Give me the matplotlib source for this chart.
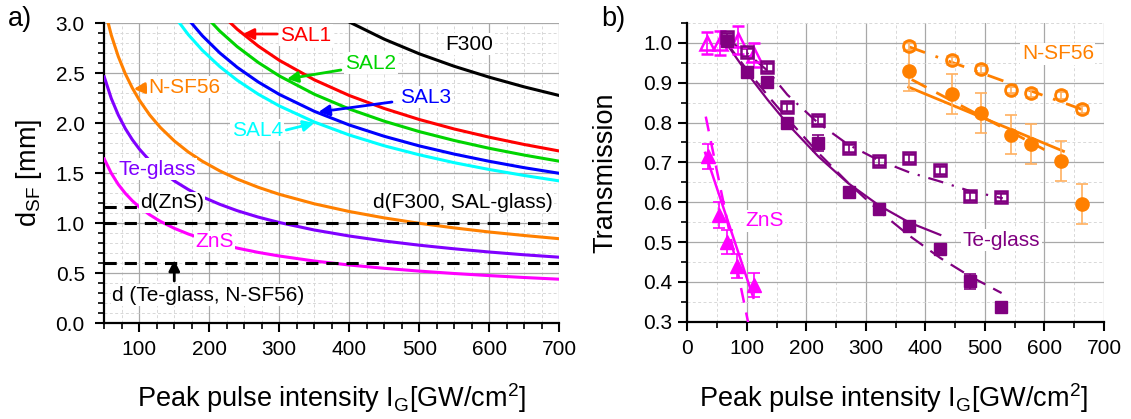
import matplotlib
matplotlib.use("Agg")
import matplotlib.pyplot as plt
from matplotlib.ticker import MultipleLocator, FormatStrFormatter

plt.rcParams["font.family"] = ["Liberation Sans", "DejaVu Sans"]
plt.rcParams["mathtext.default"] = "regular"

# ---------------- (a) self-focusing distance vs. peak intensity ----------------
intensity_a = [50, 60, 70, 80, 90, 100, 115, 130, 150, 170, 190, 215, 240, 270, 300,
               350, 400, 450, 500, 550, 600, 650, 700]
d_zns = [1.640, 1.498, 1.386, 1.297, 1.223, 1.160, 1.082, 1.017, 0.947, 0.890, 0.842,
         0.791, 0.749, 0.706, 0.670, 0.620, 0.580, 0.547, 0.519, 0.495, 0.474, 0.455, 0.438]
d_teglass = [2.461, 2.246, 2.080, 1.945, 1.834, 1.740, 1.623, 1.526, 1.421, 1.335, 1.262,
             1.187, 1.123, 1.059, 1.005, 0.930, 0.870, 0.820, 0.778, 0.742, 0.710, 0.682, 0.658]
d_nsf56 = [3.154, 2.879, 2.665, 2.493, 2.351, 2.230, 2.079, 1.956, 1.821, 1.710, 1.618,
           1.521, 1.439, 1.357, 1.287, 1.192, 1.115, 1.051, 0.997, 0.951, 0.910, 0.875, 0.843]
d_sal4 = [5.317, 4.854, 4.494, 4.204, 3.963, 3.760, 3.506, 3.298, 3.070, 2.884, 2.728,
          2.564, 2.427, 2.288, 2.171, 2.010, 1.880, 1.772, 1.682, 1.603, 1.535, 1.475, 1.421]
d_sal3 = [5.600, 5.112, 4.733, 4.427, 4.174, 3.960, 3.693, 3.473, 3.233, 3.037, 2.873,
          2.701, 2.556, 2.410, 2.286, 2.117, 1.980, 1.867, 1.771, 1.689, 1.617, 1.553, 1.497]
d_sal2 = [6.053, 5.525, 5.116, 4.785, 4.512, 4.280, 3.991, 3.754, 3.495, 3.283, 3.105,
          2.919, 2.763, 2.605, 2.471, 2.288, 2.140, 2.018, 1.914, 1.825, 1.747, 1.679, 1.618]
d_sal1 = [6.435, 5.874, 5.438, 5.087, 4.796, 4.550, 4.243, 3.991, 3.715, 3.490, 3.301,
          3.103, 2.937, 2.769, 2.627, 2.432, 2.275, 2.145, 2.035, 1.940, 1.858, 1.785, 1.720]
d_f300 = [8.513, 7.772, 7.195, 6.731, 6.346, 6.020, 5.614, 5.280, 4.915, 4.617, 4.367,
          4.106, 3.886, 3.664, 3.476, 3.218, 3.010, 2.838, 2.692, 2.567, 2.458, 2.361, 2.275]

# sample thickness levels
thick_sal_f300 = 1.0
thick_te_nsf = 0.6
thick_zns = 1.16

# ---------------- (b) transmission vs. peak intensity ----------------
zns_I = [34, 54, 67, 84, 112]
zns_T = [0.715, 0.568, 0.500, 0.440, 0.392]
zns_err = [0.032, 0.032, 0.030, 0.030, 0.030]
zns_open_I = [33, 55, 86, 112]
zns_open_T = [1.000, 1.000, 1.008, 0.970]
zns_open_err = [0.028, 0.030, 0.035, 0.030]
zns_fit_I = [30, 111]
zns_fit_T = [0.724, 0.360]
zns_fit2_I = [31, 104]
zns_fit2_T = [0.815, 0.285]

te_I = [66, 100, 134, 168, 219, 271, 322, 373, 425, 475, 527]
te_T = [1.005, 0.926, 0.901, 0.799, 0.749, 0.625, 0.584, 0.541, 0.482, 0.401, 0.337]
te_err = [0.01, 0.01, 0.01, 0.01, 0.02, 0.01, 0.01, 0.01, 0.01, 0.02, 0.01]
te_open_T = [1.015, 0.976, 0.939, 0.839, 0.806, 0.736, 0.704, 0.710, 0.682, 0.616, 0.613]
te_open_err = [0.01] * 11
te_fit_I = [65, 100, 135, 170, 220, 270, 322, 373, 425]
te_fit_T = [1.000, 0.925, 0.857, 0.794, 0.715, 0.648, 0.592, 0.549, 0.518]
te_fit2_I = [65, 100, 135, 170, 220, 270, 322, 373, 425, 475, 528]
te_fit2_T = [1.002, 0.933, 0.868, 0.807, 0.724, 0.649, 0.578, 0.516, 0.460, 0.414, 0.372]
te_open_fit_I = [66, 100, 135, 168, 219, 270, 322, 373, 425, 475, 530]
te_open_fit_T = [1.010, 0.975, 0.930, 0.870, 0.800, 0.745, 0.705, 0.675, 0.652, 0.628, 0.610]

nsf_I = [373, 445, 493, 543, 577, 628, 663]
nsf_T = [0.929, 0.872, 0.824, 0.770, 0.747, 0.704, 0.595]
nsf_err = [0.05] * 7
nsf_open_T = [0.992, 0.958, 0.935, 0.883, 0.874, 0.870, 0.834]
nsf_open_err = [0.01] * 7
nsf_fit_I = [372, 632]
nsf_fit_T = [0.889, 0.728]
nsf_fit2_I = [377, 600]
nsf_fit2_T = [0.908, 0.732]
nsf_open_fit_I = [373, 665]
nsf_open_fit_T = [0.990, 0.832]

RED, GREEN, BLUE, CYAN = "#ff0000", "#00d400", "#0000ff", "#00ffff"
ORANGE, VIOLET, MAGENTA, PURPLE = "#ff8000", "#8000ff", "#ff00ff", "#800080"
ORANGE_LIGHT = "#ffb060"

fig = plt.figure(figsize=(11.31, 4.19), dpi=100)
axA = fig.add_axes([0.0922, 0.2291, 0.4023, 0.7160])
axB = fig.add_axes([0.6077, 0.2322, 0.3684, 0.7129])


def style(ax, ypad):
    for s in ("top", "right"):
        ax.spines[s].set_visible(False)
    for s in ("left", "bottom"):
        ax.spines[s].set_linewidth(1.6)
    ax.tick_params(which="major", direction="out", length=6.5, width=1.5, labelsize=15)
    ax.tick_params(which="minor", direction="out", length=4.3, width=1.2)
    ax.tick_params(axis="x", which="major", pad=6)
    ax.tick_params(axis="y", which="major", pad=ypad)
    ax.grid(True, which="major", color="#a8a8a8", lw=0.9)
    ax.grid(True, which="minor", color="#d8d8d8", lw=0.7, ls=(0, (3, 2.5)))
    ax.set_axisbelow(True)


label_box = dict(facecolor="white", edgecolor="none", pad=1.0)

# ---- panel (a) ----
style(axA, 7.5)
axA.set_xlim(50, 700)
axA.set_ylim(0, 3.0)
axA.xaxis.set_major_locator(MultipleLocator(100))
axA.xaxis.set_minor_locator(MultipleLocator(25))
axA.yaxis.set_major_locator(MultipleLocator(0.5))
axA.yaxis.set_minor_locator(MultipleLocator(0.1))
axA.yaxis.set_major_formatter(FormatStrFormatter("%.1f"))

curves = [(d_zns, MAGENTA), (d_teglass, VIOLET), (d_nsf56, ORANGE), (d_sal4, CYAN),
          (d_sal3, BLUE), (d_sal2, GREEN), (d_sal1, RED), (d_f300, "black")]
for vals, col in curves:
    axA.plot(intensity_a, vals, color=col, lw=2.2, zorder=3, solid_joinstyle="round")

dash = (0, (4, 2.6))
axA.plot([50, 700], [thick_sal_f300] * 2, color="black", lw=2.2, ls=dash, zorder=3)
axA.plot([50, 700], [thick_te_nsf] * 2, color="black", lw=2.2, ls=dash, zorder=3)
axA.plot([50, 100], [thick_zns] * 2, color="black", lw=2.2, ls=dash, zorder=3)

arrow_kw = dict(lw=2, mutation_scale=16, shrinkA=0, shrinkB=0)
axA.annotate("", xy=(150, 0.63), xytext=(150, 0.42),
             arrowprops=dict(arrowstyle="-|>", color="black", **arrow_kw), zorder=6)
axA.annotate("", xy=(248, 2.89), xytext=(297, 2.89),
             arrowprops=dict(arrowstyle="-|>", color=RED, **arrow_kw), zorder=6)
axA.annotate("", xy=(311, 2.44), xytext=(388, 2.53),
             arrowprops=dict(arrowstyle="-|>", color=GREEN, **arrow_kw), zorder=6)
axA.annotate("", xy=(356, 2.11), xytext=(461, 2.21),
             arrowprops=dict(arrowstyle="-|>", color=BLUE, **arrow_kw), zorder=6)
axA.annotate("", xy=(350, 2.0), xytext=(310, 1.93),
             arrowprops=dict(arrowstyle="-|>", color=CYAN, **arrow_kw), zorder=6)
axA.annotate("", xy=(92, 2.34), xytext=(111, 2.35),
             arrowprops=dict(arrowstyle="-|>", color=ORANGE, **arrow_kw), zorder=6)

tkw = dict(fontsize=15, va="center", bbox=label_box, zorder=7)
axA.text(301, 2.88, "SAL1", color=RED, ha="left", **tkw)
axA.text(394, 2.60, "SAL2", color=GREEN, ha="left", **tkw)
axA.text(472, 2.26, "SAL3", color=BLUE, ha="left", **tkw)
axA.text(305, 1.93, "SAL4", color=CYAN, ha="right", **tkw)
axA.text(113, 2.36, "N-SF56", color=ORANGE, ha="left", **tkw)
axA.text(70, 1.54, "Te-glass", color=VIOLET, ha="left", **tkw)
axA.text(180, 0.815, "ZnS", color=MAGENTA, ha="left", **tkw)
axA.text(537, 2.79, "F300", color="black", ha="left", **tkw)
axA.text(101, 1.205, "d(ZnS)", color="black", ha="left", **tkw)
axA.text(434, 1.21, "d(F300, SAL-glass)", color="black", ha="left", **tkw)
axA.text(61, 0.28, "d (Te-glass, N-SF56)", color="black", ha="left", **tkw)

# ---- panel (b) ----
style(axB, 4.5)
axB.set_xlim(0, 700)
axB.set_ylim(0.3, 1.05)
axB.xaxis.set_major_locator(MultipleLocator(100))
axB.xaxis.set_minor_locator(MultipleLocator(50))
axB.yaxis.set_major_locator(MultipleLocator(0.1))
axB.yaxis.set_minor_locator(MultipleLocator(0.05))
axB.yaxis.set_major_formatter(FormatStrFormatter("%.1f"))

# fitted curves
axB.plot(zns_fit_I, zns_fit_T, color=MAGENTA, lw=1.8, zorder=3)
axB.plot(zns_fit2_I, zns_fit2_T, color=MAGENTA, lw=1.8, ls=(0, (6, 4)), zorder=3)
axB.plot(te_fit_I, te_fit_T, color=PURPLE, lw=1.6, zorder=3)
axB.plot(te_fit2_I, te_fit2_T, color=PURPLE, lw=1.6, ls=(0, (7, 4)), zorder=3)
axB.plot(te_open_fit_I, te_open_fit_T, color=PURPLE, lw=1.6, ls=(0, (7, 4, 1, 4)), zorder=3)
axB.plot(nsf_fit_I, nsf_fit_T, color=ORANGE, lw=2.0, zorder=3)
axB.plot(nsf_fit2_I, nsf_fit2_T, color=ORANGE, lw=2.0, ls=(0, (6, 4)), zorder=3)
axB.plot(nsf_open_fit_I, nsf_open_fit_T, color=ORANGE, lw=2.0, ls=(0, (6, 4, 1, 4)), zorder=3)

ekw = dict(capsize=4.5, elinewidth=1.2, capthick=1.2, linestyle="none", zorder=4)
axB.errorbar(zns_open_I, zns_open_T, yerr=zns_open_err, fmt="^", ms=9.5, mfc="none",
             mec=MAGENTA, mew=1.8, ecolor=MAGENTA, **ekw)
axB.errorbar(zns_I, zns_T, yerr=zns_err, fmt="^", ms=9.5, color=MAGENTA, ecolor=MAGENTA, **ekw)
axB.errorbar(te_I, te_open_T, yerr=te_open_err, fmt="s", ms=8, mfc="none",
             mec=PURPLE, mew=1.8, ecolor=PURPLE, **ekw)
axB.errorbar(te_I, te_T, yerr=te_err, fmt="s", ms=9, color=PURPLE, ecolor=PURPLE, **ekw)
axB.errorbar(nsf_I, nsf_open_T, yerr=nsf_open_err, fmt="o", ms=8.5, mfc="none",
             mec=ORANGE, mew=2.0, ecolor=ORANGE_LIGHT, **ekw)
axB.errorbar(nsf_I, nsf_T, yerr=nsf_err, fmt="o", ms=9.5, color=ORANGE, ecolor=ORANGE_LIGHT, **ekw)

axB.text(562, 0.973, "N-SF56", color=ORANGE, ha="left", **tkw)
axB.text(463, 0.505, "Te-glass", color=PURPLE, ha="left", **tkw)
axB.text(97, 0.554, "ZnS", color=MAGENTA, ha="left", **tkw)

# axis titles and panel letters
xlab = "Peak pulse intensity $I_G$[GW/cm$^2$]"
fig.text(0.2935, 0.050, xlab, ha="center", va="center", fontsize=19.5)
fig.text(0.7900, 0.050, xlab, ha="center", va="center", fontsize=19.5)
fig.text(0.0255, 0.587, "d$_{SF}$ [mm]", ha="center", va="center", rotation=90, fontsize=19.5)
fig.text(0.5355, 0.587, "Transmission", ha="center", va="center", rotation=90, fontsize=19.5)
fig.text(0.007, 0.955, "a)", ha="left", va="center", fontsize=19.5)
fig.text(0.532, 0.955, "b)", ha="left", va="center", fontsize=19.5)

fig.savefig("out.png", dpi=100)
